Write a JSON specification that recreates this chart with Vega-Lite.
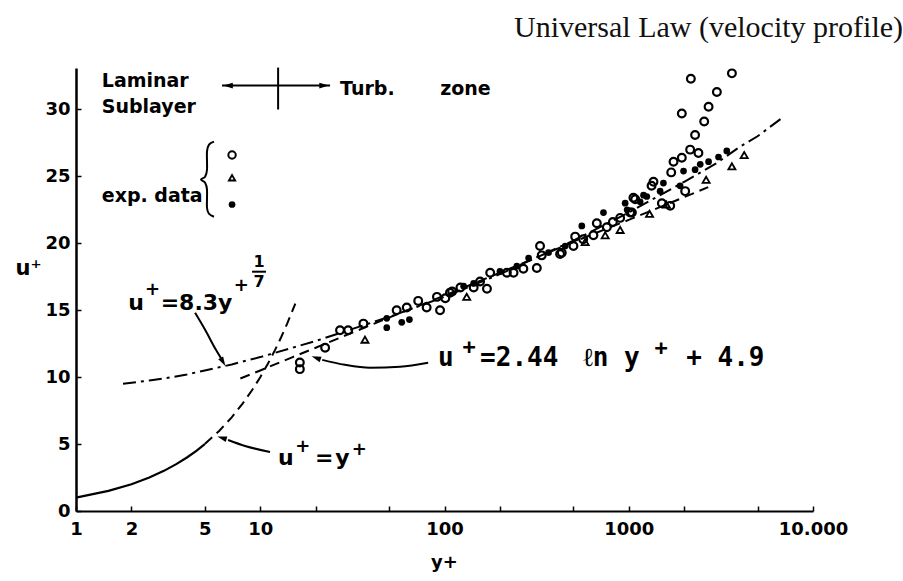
{
  "$schema": "https://vega.github.io/schema/vega-lite/v6.json",
  "width": 737,
  "height": 443,
  "autosize": {"type": "none"},
  "padding": {"left": 76, "top": 68, "right": 90, "bottom": 70},
  "background": "white",
  "title": {"text": "Universal Law (velocity profile)", "anchor": "start", "frame": "group", "dx": 438, "offset": -3, "font": "Liberation Serif", "fontSize": 30, "fontWeight": "normal", "color": "#111111", "baseline": "alphabetic"},
  "config": {"view": {"stroke": null}},
  "datasets": {
    "lin_solid": [
      {"i": 0, "yp": 1, "u": 1}, {"i": 1, "yp": 1.5, "u": 1.5}, {"i": 2, "yp": 2, "u": 2}, {"i": 3, "yp": 2.5, "u": 2.5},
      {"i": 4, "yp": 3, "u": 3}, {"i": 5, "yp": 3.5, "u": 3.5}, {"i": 6, "yp": 4, "u": 4}, {"i": 7, "yp": 4.5, "u": 4.5}, {"i": 8, "yp": 5, "u": 5}
    ],
    "lin_dash": [
      {"i": 0, "yp": 5, "u": 5}, {"i": 1, "yp": 6, "u": 6}, {"i": 2, "yp": 7, "u": 7}, {"i": 3, "yp": 8, "u": 8}, {"i": 4, "yp": 9, "u": 9},
      {"i": 5, "yp": 10, "u": 10}, {"i": 6, "yp": 11, "u": 11}, {"i": 7, "yp": 12, "u": 12}, {"i": 8, "yp": 13, "u": 13}, {"i": 9, "yp": 14, "u": 14}, {"i": 10, "yp": 15.5, "u": 15.5}
    ],
    "power": [
      {"i": 0, "yp": 1.8, "u": 9.5}, {"i": 1, "yp": 2.5, "u": 9.75}, {"i": 2, "yp": 3, "u": 9.9}, {"i": 3, "yp": 4, "u": 10.2},
      {"i": 4, "yp": 5, "u": 10.5}, {"i": 5, "yp": 7, "u": 10.95}, {"i": 6, "yp": 10, "u": 11.5}, {"i": 7, "yp": 15, "u": 12.2},
      {"i": 8, "yp": 20, "u": 12.7}, {"i": 9, "yp": 30, "u": 13.5}, {"i": 10, "yp": 50, "u": 14.5}, {"i": 11, "yp": 100, "u": 16.0},
      {"i": 12, "yp": 200, "u": 17.7}, {"i": 13, "yp": 500, "u": 20.2}, {"i": 14, "yp": 1000, "u": 22.3}, {"i": 15, "yp": 2000, "u": 24.6},
      {"i": 16, "yp": 3000, "u": 26.0}, {"i": 17, "yp": 4000, "u": 27.2}, {"i": 18, "yp": 5000, "u": 28.0}, {"i": 19, "yp": 7000, "u": 29.5}
    ],
    "loglaw": [
      {"i": 0, "yp": 7.8, "u": 9.9}, {"i": 1, "yp": 10, "u": 10.5}, {"i": 2, "yp": 15, "u": 11.5}, {"i": 3, "yp": 20, "u": 12.2},
      {"i": 4, "yp": 30, "u": 13.2}, {"i": 5, "yp": 50, "u": 14.45}, {"i": 6, "yp": 100, "u": 16.1}, {"i": 7, "yp": 200, "u": 17.8},
      {"i": 8, "yp": 500, "u": 20.1}, {"i": 9, "yp": 1000, "u": 21.75}, {"i": 10, "yp": 2000, "u": 23.45}, {"i": 11, "yp": 2700, "u": 24.2}
    ],
    "circles": [
      {"yp": 16.4, "u": 10.6}, {"yp": 16.4, "u": 11.1}, {"yp": 22.5, "u": 12.2}, {"yp": 27.1, "u": 13.5}, {"yp": 30, "u": 13.5},
      {"yp": 36.3, "u": 14.0}, {"yp": 55, "u": 15.0}, {"yp": 62.4, "u": 15.2}, {"yp": 72, "u": 15.7}, {"yp": 80, "u": 15.2},
      {"yp": 91, "u": 16.0}, {"yp": 94.6, "u": 15.0}, {"yp": 101, "u": 15.9}, {"yp": 107, "u": 16.3}, {"yp": 110, "u": 16.4},
      {"yp": 122, "u": 16.7}, {"yp": 144, "u": 16.7}, {"yp": 156, "u": 17.15}, {"yp": 170, "u": 16.6}, {"yp": 177, "u": 17.8},
      {"yp": 218, "u": 17.8}, {"yp": 237, "u": 17.8}, {"yp": 268, "u": 18.1}, {"yp": 317, "u": 18.15}, {"yp": 330, "u": 19.8},
      {"yp": 337, "u": 19.1}, {"yp": 424, "u": 19.2}, {"yp": 433, "u": 19.3}, {"yp": 501, "u": 19.8}, {"yp": 512, "u": 20.5},
      {"yp": 566, "u": 20.3}, {"yp": 643, "u": 20.6}, {"yp": 671, "u": 21.5}, {"yp": 760, "u": 21.2}, {"yp": 820, "u": 21.6},
      {"yp": 898, "u": 21.9}, {"yp": 1018, "u": 22.3}, {"yp": 1040, "u": 22.3}, {"yp": 1060, "u": 23.4}, {"yp": 1084, "u": 23.3},
      {"yp": 1330, "u": 24.3}, {"yp": 1362, "u": 24.6}, {"yp": 1513, "u": 23.0}, {"yp": 1679, "u": 22.8}, {"yp": 1700, "u": 25.3},
      {"yp": 1750, "u": 26.1}, {"yp": 1941, "u": 26.4}, {"yp": 2024, "u": 23.9}, {"yp": 2154, "u": 27.0}, {"yp": 2389, "u": 26.75},
      {"yp": 2291, "u": 28.1}, {"yp": 2567, "u": 29.1}, {"yp": 1941, "u": 29.7}, {"yp": 2712, "u": 30.2}, {"yp": 3008, "u": 31.3},
      {"yp": 2173, "u": 32.3}, {"yp": 3630, "u": 32.7}
    ],
    "triangles": [
      {"yp": 37, "u": 12.8}, {"yp": 132, "u": 16.0}, {"yp": 580, "u": 20.1}, {"yp": 745, "u": 20.6}, {"yp": 898, "u": 21.0},
      {"yp": 1297, "u": 22.2}, {"yp": 1600, "u": 22.9}, {"yp": 2630, "u": 24.75}, {"yp": 3630, "u": 25.75}, {"yp": 4233, "u": 26.6}
    ],
    "dots": [
      {"yp": 48.6, "u": 14.4}, {"yp": 48.6, "u": 13.7}, {"yp": 58.6, "u": 14.1}, {"yp": 64.5, "u": 14.3}, {"yp": 127, "u": 16.8},
      {"yp": 144, "u": 17.0}, {"yp": 200, "u": 17.9}, {"yp": 247, "u": 18.3}, {"yp": 286, "u": 18.9}, {"yp": 367, "u": 19.3},
      {"yp": 452, "u": 19.8}, {"yp": 556, "u": 21.3}, {"yp": 729, "u": 22.3}, {"yp": 956, "u": 23.0}, {"yp": 980, "u": 22.5},
      {"yp": 1153, "u": 23.1}, {"yp": 1203, "u": 23.6}, {"yp": 1253, "u": 23.5}, {"yp": 1480, "u": 23.9}, {"yp": 1542, "u": 24.5},
      {"yp": 1900, "u": 24.3}, {"yp": 1983, "u": 25.4}, {"yp": 2291, "u": 25.5}, {"yp": 2443, "u": 25.9}, {"yp": 2712, "u": 26.1},
      {"yp": 3070, "u": 26.45}, {"yp": 3404, "u": 26.9}
    ],
    "arrows": [
      {"id": "lam", "i": 0, "yp": 6.2, "u": 31.79}, {"id": "lam", "i": 1, "yp": 23.93, "u": 31.79},
      {"id": "vert", "i": 0, "yp": 12.5, "u": 33.13}, {"id": "vert", "i": 1, "yp": 12.5, "u": 30.0},
      {"id": "a83", "i": 0, "yp": 4.43, "u": 14.81}, {"id": "a83", "i": 1, "yp": 5.02, "u": 13.54}, {"id": "a83", "i": 2, "yp": 5.75, "u": 12.04}, {"id": "a83", "i": 3, "yp": 6.2, "u": 11.29},
      {"id": "a244", "i": 0, "yp": 81.5, "u": 11.07}, {"id": "a244", "i": 1, "yp": 57.4, "u": 10.77}, {"id": "a244", "i": 2, "yp": 39.4, "u": 10.7}, {"id": "a244", "i": 3, "yp": 28.8, "u": 10.92}, {"id": "a244", "i": 4, "yp": 21.7, "u": 11.29},
      {"id": "ayp", "i": 0, "yp": 11.3, "u": 4.41}, {"id": "ayp", "i": 1, "yp": 8.27, "u": 4.86}, {"id": "ayp", "i": 2, "yp": 6.69, "u": 5.31},
      {"id": "frac", "i": 0, "yp": 9.03, "u": 17.88}, {"id": "frac", "i": 1, "yp": 10.75, "u": 17.88}
    ],
    "brace": [
      {"i": 0, "yp": 5.61, "u": 27.6}, {"i": 1, "yp": 5.27, "u": 27.37}, {"i": 2, "yp": 5.14, "u": 26.85}, {"i": 3, "yp": 5.14, "u": 25.5},
      {"i": 4, "yp": 5.02, "u": 24.98}, {"i": 5, "yp": 4.77, "u": 24.76}, {"i": 6, "yp": 5.02, "u": 24.53}, {"i": 7, "yp": 5.14, "u": 24.01},
      {"i": 8, "yp": 5.14, "u": 22.66}, {"i": 9, "yp": 5.27, "u": 22.21}, {"i": 10, "yp": 5.61, "u": 21.99}
    ],
    "sans": [
      {"yp": 1.38, "u": 32.1, "t": "Laminar"}, {"yp": 1.38, "u": 30.2, "t": "Sublayer"},
      {"yp": 27.1, "u": 31.5, "t": "Turb."}, {"yp": 94.7, "u": 31.5, "t": "zone"},
      {"yp": 1.38, "u": 23.5, "t": "exp. data"}
    ],
    "sans_big": [
      {"yp": 1.92, "u": 15.56, "t": "u"}, {"yp": 2.88, "u": 15.56, "t": "=8.3y"},
      {"yp": 12.5, "u": 3.96, "t": "u"}, {"yp": 19.8, "u": 3.96, "t": "="}, {"yp": 25.5, "u": 3.96, "t": "y"}
    ],
    "plus": [
      {"yp": 2.6, "u": 16.5, "t": "+"}, {"yp": 7.9, "u": 16.83, "t": "+"},
      {"yp": 17.0, "u": 4.75, "t": "+"}, {"yp": 34.5, "u": 4.55, "t": "+"}
    ],
    "frac": [
      {"yp": 9.85, "u": 18.6, "t": "1"}, {"yp": 9.85, "u": 17.1, "t": "7"}
    ],
    "mono": [
      {"yp": 92.3, "u": 11.44, "t": "u"}, {"yp": 156, "u": 11.44, "t": "=2.44"}, {"yp": 565, "u": 11.44, "t": "ℓn y"}, {"yp": 2050, "u": 11.44, "t": "+ 4.9"}
    ],
    "monoplus": [
      {"yp": 136, "u": 12.25, "t": "+"}, {"yp": 1500, "u": 12.19, "t": "+"}
    ],
    "legend_c": [{"yp": 7.03, "u": 26.6}],
    "legend_t": [{"yp": 7.03, "u": 24.9}],
    "legend_d": [{"yp": 7.03, "u": 22.9}],
    "h_left": [{"yp": 6.69, "u": 31.79}],
    "h_right": [{"yp": 22.2, "u": 31.79}],
    "h_a83": [{"yp": 6.28, "u": 11.14}],
    "h_a244": [{"yp": 20.1, "u": 11.44}],
    "h_ayp": [{"yp": 6.2, "u": 5.46}]
  },
  "layer": [
    {
      "data": {"name": "lin_solid"},
      "mark": {"type": "line", "stroke": "black", "strokeWidth": 2.2},
      "encoding": {
        "x": {"field": "yp", "type": "quantitative", "scale": {"type": "log", "domain": [1, 10000], "nice": false},
          "axis": {"values": [1, 2, 5, 10, 20, 50, 100, 200, 500, 1000, 2000, 5000, 10000],
            "labelExpr": "datum.value == 10000 ? '10.000' : ((datum.value == 1 || datum.value == 2 || datum.value == 5 || datum.value == 10 || datum.value == 100 || datum.value == 1000) ? '' + datum.value : '')",
            "tickSize": -5, "tickWidth": 1.5, "tickColor": "black", "domainColor": "black", "domainWidth": 2, "grid": false,
            "labelFont": "DejaVu Sans", "labelFontSize": 18, "labelFontWeight": "bold", "labelColor": "black", "labelPadding": 14,
            "labelFlush": false, "labelOverlap": false, "labelBound": false,
            "title": "y+", "titleFont": "DejaVu Sans", "titleFontSize": 18, "titleFontWeight": "bold", "titleColor": "black",
            "titleX": 368, "titleY": 51, "titleBaseline": "middle", "titleAlign": "center"}},
        "y": {"field": "u", "type": "quantitative", "scale": {"domain": [0, 33.1], "nice": false, "zero": false},
          "axis": {"values": [0, 5, 10, 15, 20, 25, 30], "tickSize": -5, "tickWidth": 1.5, "tickColor": "black", "domainColor": "black", "domainWidth": 2.5, "grid": false,
            "labelFont": "DejaVu Sans", "labelFontSize": 18, "labelFontWeight": "bold", "labelColor": "black", "labelPadding": 11,
            "labelFlush": false, "labelOverlap": false, "labelBound": false,
            "title": "u⁺", "titleFont": "DejaVu Sans", "titleFontSize": 21, "titleFontWeight": "bold", "titleColor": "black",
            "titleAngle": 0, "titleX": -48, "titleY": 200, "titleBaseline": "middle", "titleAlign": "center"}},
        "order": {"field": "i", "type": "quantitative"}
      }
    },
    {
      "data": {"name": "lin_dash"},
      "mark": {"type": "line", "stroke": "black", "strokeWidth": 2, "strokeDash": [10, 6]},
      "encoding": {"x": {"field": "yp", "type": "quantitative"}, "y": {"field": "u", "type": "quantitative"}, "order": {"field": "i", "type": "quantitative"}}
    },
    {
      "data": {"name": "power"},
      "mark": {"type": "line", "stroke": "black", "strokeWidth": 2, "strokeDash": [13, 5, 3, 5]},
      "encoding": {"x": {"field": "yp", "type": "quantitative"}, "y": {"field": "u", "type": "quantitative"}, "order": {"field": "i", "type": "quantitative"}}
    },
    {
      "data": {"name": "loglaw"},
      "mark": {"type": "line", "stroke": "black", "strokeWidth": 2, "strokeDash": [10, 6]},
      "encoding": {"x": {"field": "yp", "type": "quantitative"}, "y": {"field": "u", "type": "quantitative"}, "order": {"field": "i", "type": "quantitative"}}
    },
    {
      "data": {"name": "circles"},
      "mark": {"type": "point", "shape": "circle", "filled": false, "stroke": "black", "strokeWidth": 2.2, "size": 60, "opacity": 1},
      "encoding": {"x": {"field": "yp", "type": "quantitative"}, "y": {"field": "u", "type": "quantitative"}}
    },
    {
      "data": {"name": "triangles"},
      "mark": {"type": "point", "shape": "triangle-up", "filled": false, "stroke": "black", "strokeWidth": 1.8, "size": 50, "opacity": 1},
      "encoding": {"x": {"field": "yp", "type": "quantitative"}, "y": {"field": "u", "type": "quantitative"}}
    },
    {
      "data": {"name": "dots"},
      "mark": {"type": "point", "shape": "circle", "filled": true, "fill": "black", "size": 45, "opacity": 1},
      "encoding": {"x": {"field": "yp", "type": "quantitative"}, "y": {"field": "u", "type": "quantitative"}}
    },
    {
      "data": {"name": "legend_c"},
      "mark": {"type": "point", "shape": "circle", "filled": false, "stroke": "black", "strokeWidth": 2, "size": 55, "opacity": 1},
      "encoding": {"x": {"field": "yp", "type": "quantitative"}, "y": {"field": "u", "type": "quantitative"}}
    },
    {
      "data": {"name": "legend_t"},
      "mark": {"type": "point", "shape": "triangle-up", "filled": false, "stroke": "black", "strokeWidth": 1.8, "size": 40, "opacity": 1},
      "encoding": {"x": {"field": "yp", "type": "quantitative"}, "y": {"field": "u", "type": "quantitative"}}
    },
    {
      "data": {"name": "legend_d"},
      "mark": {"type": "point", "shape": "circle", "filled": true, "fill": "black", "size": 45, "opacity": 1},
      "encoding": {"x": {"field": "yp", "type": "quantitative"}, "y": {"field": "u", "type": "quantitative"}}
    },
    {
      "data": {"name": "arrows"},
      "mark": {"type": "line", "stroke": "black", "strokeWidth": 2, "interpolate": "monotone"},
      "encoding": {"x": {"field": "yp", "type": "quantitative"}, "y": {"field": "u", "type": "quantitative"}, "detail": {"field": "id"}, "order": {"field": "i", "type": "quantitative"}}
    },
    {
      "data": {"name": "brace"},
      "mark": {"type": "line", "stroke": "black", "strokeWidth": 2, "interpolate": "cardinal"},
      "encoding": {"x": {"field": "yp", "type": "quantitative"}, "y": {"field": "u", "type": "quantitative"}, "order": {"field": "i", "type": "quantitative"}}
    },
    {
      "data": {"name": "h_left"},
      "mark": {"type": "point", "shape": "M0,-1L0.6,1L-0.6,1Z", "filled": true, "fill": "black", "size": 90, "angle": 270, "opacity": 1},
      "encoding": {"x": {"field": "yp", "type": "quantitative"}, "y": {"field": "u", "type": "quantitative"}}
    },
    {
      "data": {"name": "h_right"},
      "mark": {"type": "point", "shape": "M0,-1L0.6,1L-0.6,1Z", "filled": true, "fill": "black", "size": 90, "angle": 90, "opacity": 1},
      "encoding": {"x": {"field": "yp", "type": "quantitative"}, "y": {"field": "u", "type": "quantitative"}}
    },
    {
      "data": {"name": "h_a83"},
      "mark": {"type": "point", "shape": "M0,-1L0.6,1L-0.6,1Z", "filled": true, "fill": "black", "size": 90, "angle": 150, "opacity": 1},
      "encoding": {"x": {"field": "yp", "type": "quantitative"}, "y": {"field": "u", "type": "quantitative"}}
    },
    {
      "data": {"name": "h_a244"},
      "mark": {"type": "point", "shape": "M0,-1L0.6,1L-0.6,1Z", "filled": true, "fill": "black", "size": 90, "angle": 289, "opacity": 1},
      "encoding": {"x": {"field": "yp", "type": "quantitative"}, "y": {"field": "u", "type": "quantitative"}}
    },
    {
      "data": {"name": "h_ayp"},
      "mark": {"type": "point", "shape": "M0,-1L0.6,1L-0.6,1Z", "filled": true, "fill": "black", "size": 90, "angle": 287, "opacity": 1},
      "encoding": {"x": {"field": "yp", "type": "quantitative"}, "y": {"field": "u", "type": "quantitative"}}
    },
    {
      "data": {"name": "sans"},
      "mark": {"type": "text", "font": "DejaVu Sans", "fontSize": 19, "fontWeight": "bold", "align": "left", "baseline": "middle", "color": "black"},
      "encoding": {"x": {"field": "yp", "type": "quantitative"}, "y": {"field": "u", "type": "quantitative"}, "text": {"field": "t"}}
    },
    {
      "data": {"name": "sans_big"},
      "mark": {"type": "text", "font": "DejaVu Sans", "fontSize": 22, "fontWeight": "bold", "align": "left", "baseline": "middle", "color": "black"},
      "encoding": {"x": {"field": "yp", "type": "quantitative"}, "y": {"field": "u", "type": "quantitative"}, "text": {"field": "t"}}
    },
    {
      "data": {"name": "plus"},
      "mark": {"type": "text", "font": "DejaVu Sans", "fontSize": 18, "fontWeight": "bold", "align": "center", "baseline": "middle", "color": "black"},
      "encoding": {"x": {"field": "yp", "type": "quantitative"}, "y": {"field": "u", "type": "quantitative"}, "text": {"field": "t"}}
    },
    {
      "data": {"name": "frac"},
      "mark": {"type": "text", "font": "DejaVu Sans", "fontSize": 16, "fontWeight": "bold", "align": "center", "baseline": "middle", "color": "black"},
      "encoding": {"x": {"field": "yp", "type": "quantitative"}, "y": {"field": "u", "type": "quantitative"}, "text": {"field": "t"}}
    },
    {
      "data": {"name": "mono"},
      "mark": {"type": "text", "font": "DejaVu Sans Mono", "fontSize": 26, "fontWeight": "bold", "align": "left", "baseline": "middle", "color": "black"},
      "encoding": {"x": {"field": "yp", "type": "quantitative"}, "y": {"field": "u", "type": "quantitative"}, "text": {"field": "t"}}
    },
    {
      "data": {"name": "monoplus"},
      "mark": {"type": "text", "font": "DejaVu Sans Mono", "fontSize": 22, "fontWeight": "bold", "align": "center", "baseline": "middle", "color": "black"},
      "encoding": {"x": {"field": "yp", "type": "quantitative"}, "y": {"field": "u", "type": "quantitative"}, "text": {"field": "t"}}
    }
  ]
}
